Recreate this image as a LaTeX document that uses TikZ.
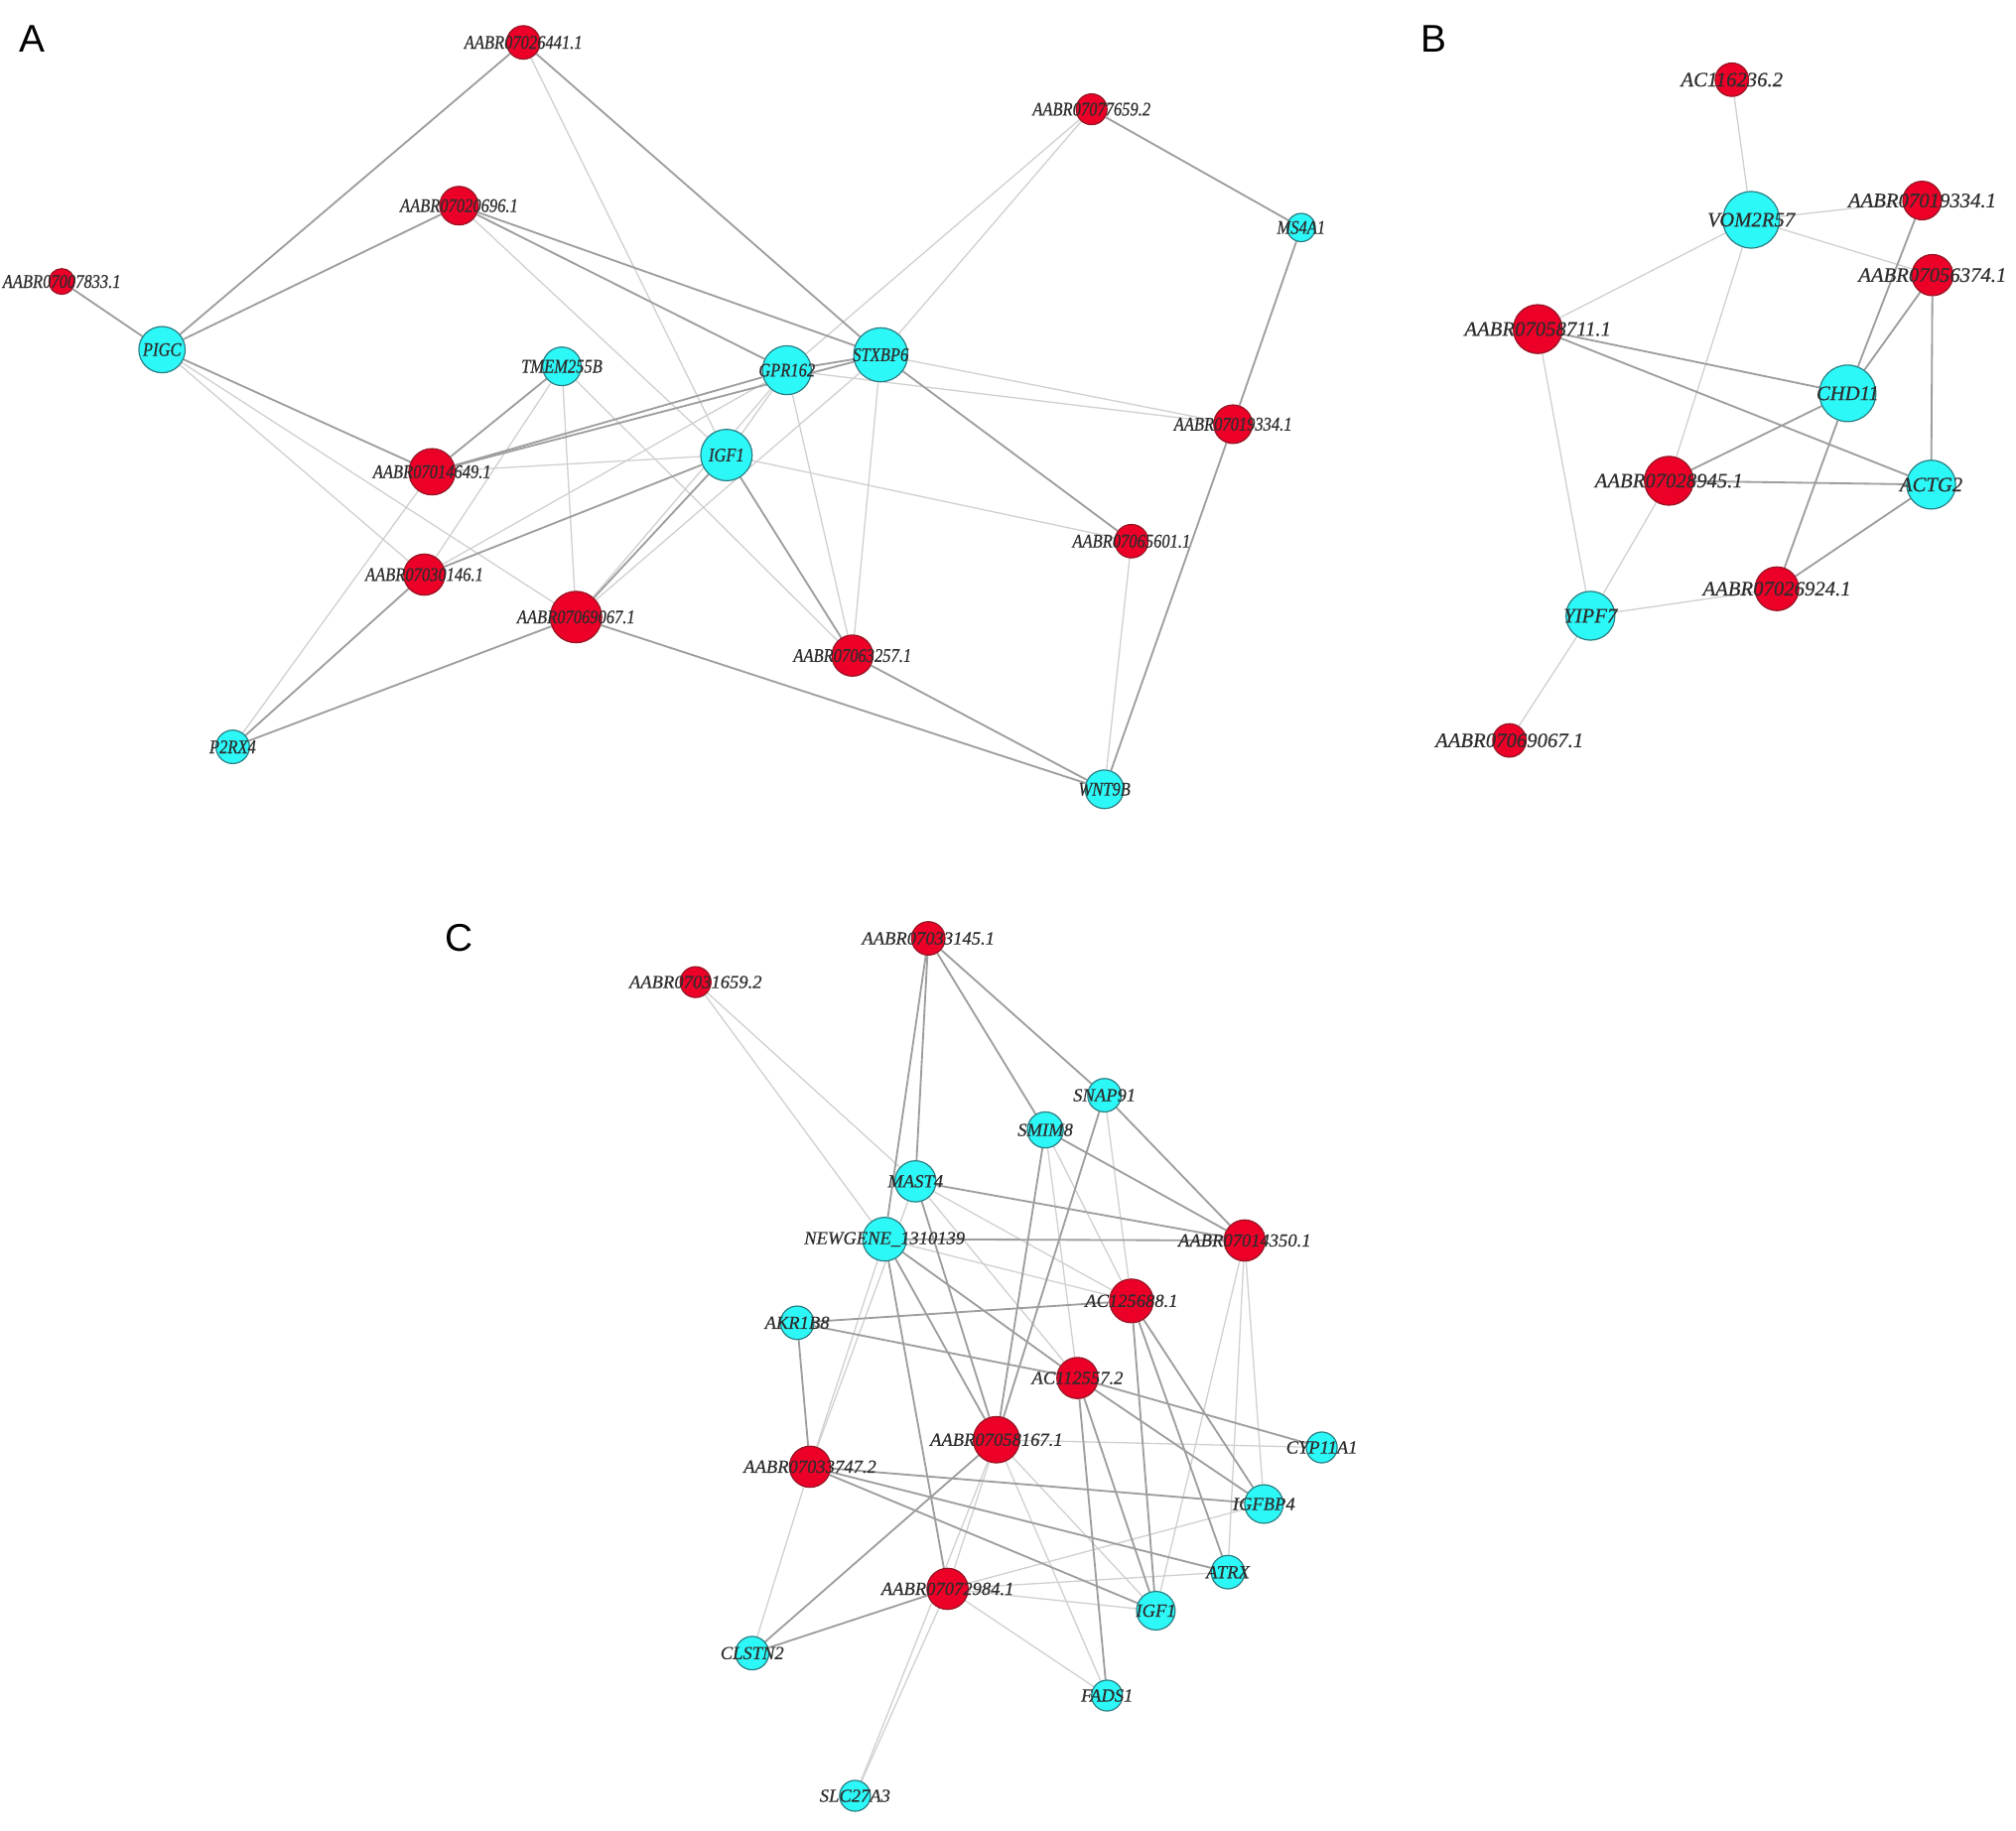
\documentclass[tikz,border=0pt]{standalone}
\usepackage{fontspec}
\setmainfont{Liberation Serif}
\newfontfamily\sansfam{Liberation Sans}
\newfontfamily\condfam[FakeStretch=0.85,FakeBold=0.6]{Liberation Serif}
\newfontfamily\labfam[FakeBold=0.5]{Liberation Serif}
\usetikzlibrary{backgrounds}
\definecolor{nred}{RGB}{236,0,40}
\definecolor{nredb}{RGB}{150,20,35}
\definecolor{ncyan}{RGB}{45,248,248}
\definecolor{ncyanb}{RGB}{40,125,130}
\definecolor{edk}{RGB}{158,158,158}
\definecolor{elt}{RGB}{208,208,208}
\definecolor{labc}{RGB}{45,45,45}
\newcommand\labfontA{\condfam\itshape\fontsize{9}{9}\selectfont}
\newcommand\labfontB{\labfam\itshape\fontsize{9.6}{10}\selectfont}
\newcommand\labfontC{\labfam\itshape\fontsize{8.6}{9}\selectfont}
\tikzset{
  rn/.style={circle,fill=nred,draw=nredb,line width=0.55pt,inner sep=0pt,minimum size={#1*1.2pt}},
  cn/.style={circle,fill=ncyan,draw=ncyanb,line width=0.55pt,inner sep=0pt,minimum size={#1*1.2pt}},
  dk/.style={draw=edk,line width=0.85pt},
  lt/.style={draw=elt,line width=0.6pt},
  la/.style={font=\labfontA,text=labc,inner sep=0pt},
  lb/.style={font=\labfontB,text=labc,inner sep=0pt},
  lc/.style={font=\labfontC,text=labc,inner sep=0pt},
  panel/.style={font=\sansfam\fontsize{18}{18}\selectfont,text=black,inner sep=0pt}
}
\begin{document}
\begin{tikzpicture}[x=0.6pt,y=-0.6pt]
\useasboundingbox (0,0) rectangle (1568,1424);
\begin{scope}[on background layer]
\fill[white] (0,0) rectangle (1568,1424);
\end{scope}

% ---------------- Panel A ----------------
\node[panel] (pA) at (25,30) {A};
\node[rn=13,label={[la]center:AABR07026441.1}] (a1) at (407,33) {};
\node[rn=12,label={[la]center:AABR07077659.2}] (a2) at (849,85) {};
\node[rn=15,label={[la]center:AABR07020696.1}] (a3) at (357,160) {};
\node[rn=10,label={[la]center:AABR07007833.1}] (a4) at (48,219) {};
\node[cn=18,label={[la]center:PIGC}] (a5) at (126,272) {};
\node[cn=15,label={[la]center:TMEM255B}] (a6) at (437,285) {};
\node[cn=19,label={[la]center:GPR162}] (a7) at (612,288) {};
\node[cn=21,label={[la]center:STXBP6}] (a8) at (685,276) {};
\node[cn=11,label={[la]center:MS4A1}] (a9) at (1012,177) {};
\node[rn=15,label={[la]center:AABR07019334.1}] (a10) at (959,330) {};
\node[rn=18,label={[la]center:AABR07014649.1}] (a11) at (336,367) {};
\node[cn=20,label={[la]center:IGF1}] (a12) at (565,354) {};
\node[rn=16,label={[la]center:AABR07030146.1}] (a13) at (330,447) {};
\node[rn=20,label={[la]center:AABR07069067.1}] (a14) at (448,480) {};
\node[rn=13,label={[la]center:AABR07065601.1}] (a15) at (880,421) {};
\node[rn=16,label={[la]center:AABR07063257.1}] (a16) at (663,510) {};
\node[cn=13,label={[la]center:P2RX4}] (a17) at (181,581) {};
\node[cn=15,label={[la]center:WNT9B}] (a18) at (859,614) {};

\begin{scope}[on background layer]
\foreach \u/\v in {a5/a13,a5/a14,a1/a12,a3/a12,a2/a7,a2/a8,a8/a10,a7/a10,a12/a15,a15/a18,a17/a11,a6/a13,a6/a14,a6/a16,a11/a12,a13/a7,a14/a7,a14/a8,a7/a16,a8/a16,a7/a12}
  \draw[lt] (\u) -- (\v);
\foreach \u/\v in {a4/a5,a5/a1,a5/a3,a5/a11,a1/a8,a3/a7,a3/a8,a2/a9,a8/a15,a6/a11,a11/a7,a11/a8,a13/a12,a14/a12,a12/a16,a7/a8,a16/a18,a14/a18,a17/a14,a17/a13,a10/a18,a9/a10}
  \draw[dk] (\u) -- (\v);
\end{scope}

% ---------------- Panel B ----------------
\node[panel] (pB) at (1115,30) {B};
\node[rn=13,label={[lb]center:AC116236.2}] (b1) at (1347,62) {};
\node[cn=22,label={[lb]center:VOM2R57}] (b2) at (1362,171) {};
\node[rn=15,label={[lb]center:AABR07019334.1}] (b3) at (1495,156) {};
\node[rn=16,label={[lb]center:AABR07056374.1}] (b4) at (1503,214) {};
\node[rn=19,label={[lb]center:AABR07058711.1}] (b5) at (1196,256) {};
\node[cn=22,label={[lb]center:CHD11}] (b6) at (1437,306) {};
\node[rn=19,label={[lb]center:AABR07028945.1}] (b7) at (1298,374) {};
\node[cn=19,label={[lb]center:ACTG2}] (b8) at (1502,377) {};
\node[rn=17,label={[lb]center:AABR07026924.1}] (b9) at (1382,458) {};
\node[cn=19,label={[lb]center:YIPF7}] (b10) at (1237,479) {};
\node[rn=13,label={[lb]center:AABR07069067.1}] (b11) at (1174,576) {};

\begin{scope}[on background layer]
\foreach \u/\v in {b1/b2,b2/b3,b2/b4,b2/b5,b2/b7,b5/b10,b7/b10,b9/b10,b10/b11}
  \draw[lt] (\u) -- (\v);
\foreach \u/\v in {b3/b6,b4/b6,b4/b8,b5/b6,b5/b8,b7/b6,b7/b8,b6/b9,b8/b9}
  \draw[dk] (\u) -- (\v);
\end{scope}

% ---------------- Panel C ----------------
\node[panel] (pC) at (357,730) {C};
\node[rn=13,label={[lc]center:AABR07033145.1}] (c1) at (722,730) {};
\node[rn=12,label={[lc]center:AABR07031659.2}] (c2) at (541,764) {};
\node[cn=13,label={[lc]center:SNAP91}] (c3) at (859,852) {};
\node[cn=14,label={[lc]center:SMIM8}] (c4) at (813,879) {};
\node[cn=16,label={[lc]center:MAST4}] (c5) at (712,919) {};
\node[cn=17,label={[lc]center:NEWGENE\_1310139}] (c6) at (688,964) {};
\node[rn=16,label={[lc]center:AABR07014350.1}] (c7) at (968,965) {};
\node[rn=17,label={[lc]center:AC125688.1}] (c8) at (880,1012) {};
\node[cn=13,label={[lc]center:AKR1B8}] (c9) at (620,1029) {};
\node[rn=16,label={[lc]center:AC112557.2}] (c10) at (838,1072) {};
\node[rn=18,label={[lc]center:AABR07058167.1}] (c11) at (775,1120) {};
\node[cn=12,label={[lc]center:CYP11A1}] (c12) at (1028,1126) {};
\node[rn=16,label={[lc]center:AABR07033747.2}] (c13) at (630,1141) {};
\node[cn=15,label={[lc]center:IGFBP4}] (c14) at (983,1170) {};
\node[cn=13,label={[lc]center:ATRX}] (c15) at (955,1223) {};
\node[rn=16,label={[lc]center:AABR07072984.1}] (c16) at (737,1236) {};
\node[cn=15,label={[lc]center:IGF1}] (c17) at (899,1253) {};
\node[cn=13,label={[lc]center:CLSTN2}] (c18) at (585,1286) {};
\node[cn=12,label={[lc]center:FADS1}] (c19) at (861,1319) {};
\node[cn=12,label={[lc]center:SLC27A3}] (c20) at (665,1397) {};

\begin{scope}[on background layer]
\foreach \u/\v in {c2/c5,c2/c6,c3/c8,c4/c10,c4/c8,c5/c8,c5/c10,c5/c13,c6/c8,c6/c13,c7/c17,c7/c15,c7/c14,c11/c12,c11/c17,c11/c19,c11/c16,c16/c14,c16/c15,c16/c17,c16/c19,c13/c18,c20/c16,c20/c11}
  \draw[lt] (\u) -- (\v);
\foreach \u/\v in {c1/c5,c1/c6,c1/c4,c1/c3,c3/c7,c3/c11,c4/c7,c4/c11,c5/c7,c5/c11,c6/c7,c6/c10,c6/c11,c6/c16,c9/c8,c9/c10,c9/c13,c10/c12,c10/c14,c10/c17,c10/c19,c8/c17,c8/c15,c8/c14,c13/c14,c13/c15,c13/c17,c11/c18,c16/c18}
  \draw[dk] (\u) -- (\v);
\end{scope}
\end{tikzpicture}
\end{document}
